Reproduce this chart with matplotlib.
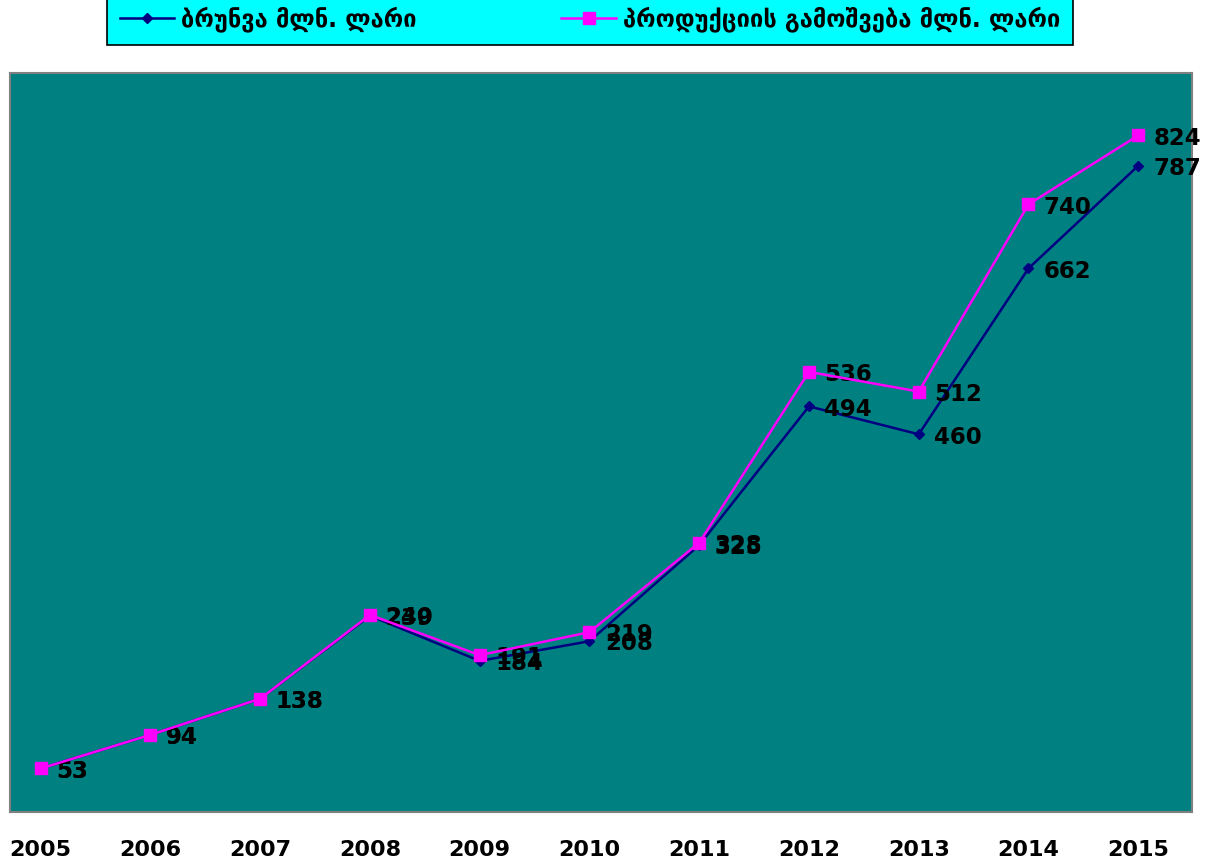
import numpy as np
import matplotlib.pyplot as plt

years = ['2005', '2006', '2007', '2008', '2009', '2010', '2011', '2012', '2013', '2014', '2015']
turnover = [53, 94, 138, 239, 184, 208, 325, 494, 460, 662, 787]
output = [53, 94, 138, 240, 191, 219, 328, 536, 512, 740, 824]
name_turnover = 'ბრუნვა მლნ. ლარი'
name_output = 'პროდუქციის გამოშვება მლნ. ლარი'

W, H = 1217, 863
fig = plt.figure(figsize=(W / 100, H / 100), dpi=100)
ax = fig.add_axes([10 / W, (H - 812) / H, 1182 / W, 739 / H])
ax.set_facecolor('#008080')
for s in ax.spines.values():
    s.set_color('#808080')
    s.set_linewidth(1.5)

x = np.arange(len(years))
ax.plot(x, turnover, color='#000080', marker='D', markersize=5, lw=1.8, label=name_turnover, zorder=3)
ax.plot(x, output, color='#FF00FF', marker='s', markersize=8, lw=1.8, label=name_output, zorder=4)

# same offset for both series, equal values sit on top of each other
for series in (turnover, output):
    for xi, v in zip(x, series):
        ax.annotate(str(v), (xi, v), xytext=(11, -2), textcoords='offset points',
                    ha='left', va='center', fontsize=16.5, fontweight='bold', color='black')

ax.set_xlim(-0.28, 10.49)
ax.set_ylim(0, 900)
ax.set_yticks([])
ax.set_xticks(x)
ax.set_xticklabels(years, fontsize=16, fontweight='bold')
ax.tick_params(axis='x', length=0, pad=20)

leg = fig.legend(loc='center', bbox_to_anchor=(95 / W, (H - 38) / H, 990 / W, 38 / H),
                 mode='expand', ncol=2, prop={'size': 17, 'weight': 'bold'},
                 handlelength=2.3, handletextpad=0.3, borderpad=0.55, fancybox=False,
                 facecolor='#00FFFF', edgecolor='black', framealpha=1)
leg.get_frame().set_linewidth(1.2)

fig.savefig('out.png', dpi=100)
